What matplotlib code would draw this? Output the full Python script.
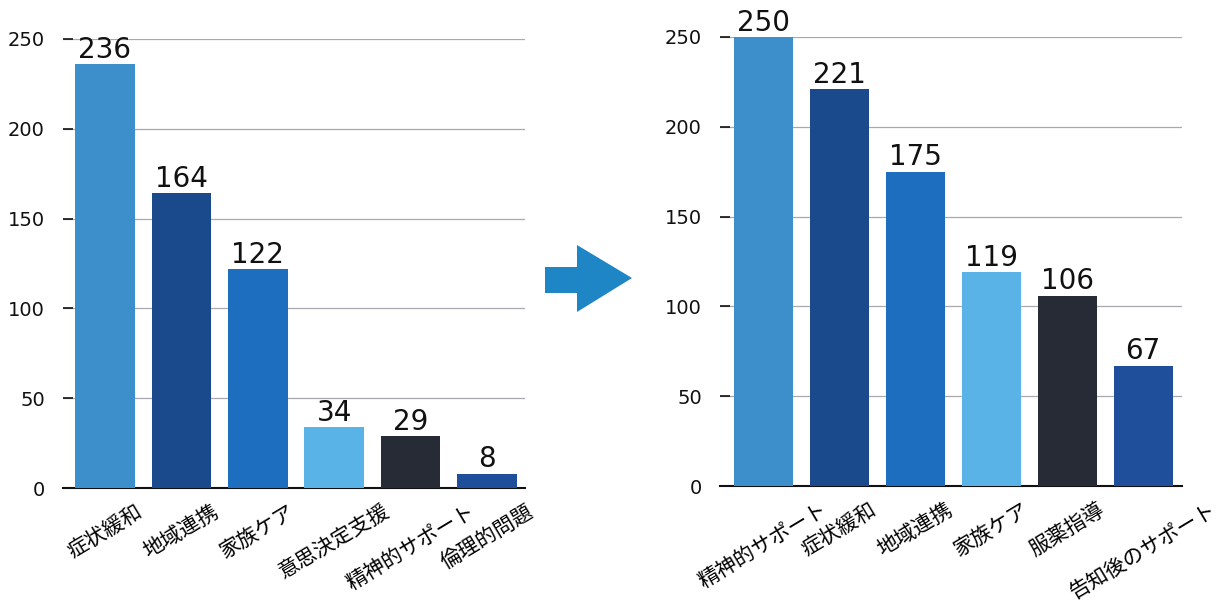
import matplotlib
matplotlib.use("Agg")
import matplotlib.pyplot as plt
from matplotlib.patches import Polygon

# before / after counts
before_labels = ["症状緩和", "地域連携", "家族ケア", "意思決定支援", "精神的サポート", "倫理的問題"]
before_values = [236, 164, 122, 34, 29, 8]

after_labels = ["精神的サポート", "症状緩和", "地域連携", "家族ケア", "服薬指導", "告知後のサポート"]
after_values = [250, 221, 175, 119, 106, 67]

bar_colors = ["#3d8fcc", "#1b4a8c", "#1e6ebf", "#5ab3e6", "#262b36", "#1f4f9a"]
yticks = [0, 50, 100, 150, 200, 250]

W, H = 1227, 601
fig = plt.figure(figsize=(W / 100, H / 100), dpi=100)


def px_axes(x0, x1, ytop, ybot):
    return fig.add_axes([x0 / W, 1 - ybot / H, (x1 - x0) / W, (ybot - ytop) / H])


def draw(ax, labels, values, xlim):
    x = range(len(values))
    ax.bar(x, values, width=0.78, color=bar_colors, zorder=3)
    for i, v in enumerate(values):
        ax.annotate(str(v), (i, v), xytext=(0, 4.5), textcoords="offset points",
                    ha="center", va="baseline", fontsize=20, color="#111111")
    ax.set_xlim(*xlim)
    ax.set_ylim(0, 250)
    ax.set_yticks(yticks)
    ax.yaxis.grid(True, color="#a8a8b0", linewidth=0.9, zorder=0)
    ax.set_axisbelow(True)
    for s in ["top", "right", "left"]:
        ax.spines[s].set_visible(False)
    ax.spines["bottom"].set_linewidth(1.5)
    ax.spines["bottom"].set_color("#111111")
    ax.tick_params(axis="y", direction="in", length=7, width=1.2, pad=13,
                   labelsize=14, colors="#111111")
    ax.set_xticks(list(x))
    ax.set_xticklabels(labels, rotation=31, ha="center", fontsize=15,
                       family=["Noto Sans CJK JP", "DejaVu Sans"])
    ax.tick_params(axis="x", length=0, pad=9)


ax1 = px_axes(63, 525, 39, 488)
draw(ax1, before_labels, before_values, (-0.55, 5.5))

ax2 = px_axes(720, 1182, 37, 486)
draw(ax2, after_labels, after_values, (-0.57, 5.51))

# arrow between the two charts
arrow_px = [(545, 267), (577, 267), (577, 245), (632, 278), (577, 312), (577, 293), (545, 293)]
arrow = Polygon([(px / W, 1 - py / H) for px, py in arrow_px], closed=True,
                facecolor="#1f86c6", edgecolor="none", transform=fig.transFigure)
fig.add_artist(arrow)

fig.savefig("out.png", dpi=100, facecolor="white")
